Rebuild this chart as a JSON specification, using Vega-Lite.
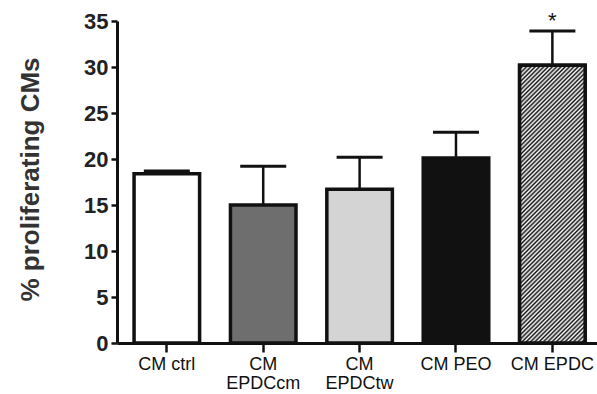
{
  "$schema": "https://vega.github.io/schema/vega-lite/v6.json",
  "width": 480,
  "height": 322,
  "autosize": {"type": "none"},
  "padding": {"left": 117, "top": 21, "right": 0, "bottom": 51},
  "background": "white",
  "config": {"view": {"stroke": null}},
  "data": {"values": [
    {"group": "CM ctrl", "mean": 18.4, "upper": 18.7, "sig": ""},
    {"group": "CM EPDCcm", "mean": 15.0, "upper": 19.2, "sig": ""},
    {"group": "CM EPDCtw", "mean": 16.7, "upper": 20.2, "sig": ""},
    {"group": "CM PEO", "mean": 20.1, "upper": 22.9, "sig": ""},
    {"group": "CM EPDC", "mean": 30.2, "upper": 33.9, "sig": "*"}
  ]},
  "encoding": {
    "x": {
      "field": "group", "type": "nominal", "sort": null,
      "scale": {"paddingInner": 0.32, "paddingOuter": 0.15, "align": 0.59},
      "axis": {
        "title": null, "labelAngle": 0, "domainWidth": 3, "domainColor": "#111",
        "tickColor": "#111", "tickWidth": 2.5, "tickSize": 9,
        "labelFont": "Liberation Sans", "labelFontSize": 18, "labelColor": "#111",
        "labelPadding": 3, "labelBaseline": "top", "labelLineHeight": 19,
        "labelOverlap": false, "labelBound": false,
        "labelExpr": "datum.value == 'CM EPDCcm' ? ['CM','EPDCcm'] : datum.value == 'CM EPDCtw' ? ['CM','EPDCtw'] : datum.value"
      }
    }
  },
  "layer": [
    {
      "mark": {"type": "bar", "stroke": "#111", "strokeWidth": 3.5},
      "encoding": {
        "y": {
          "field": "mean", "type": "quantitative",
          "scale": {"domain": [0, 35], "nice": false},
          "axis": {
            "values": [0, 5, 10, 15, 20, 25, 30, 35], "grid": false,
            "domainWidth": 3, "domainColor": "#111", "tickColor": "#111",
            "tickWidth": 2.5, "tickSize": 6, "labelFont": "Liberation Sans",
            "labelFontWeight": "bold", "labelFontSize": 22, "labelColor": "#222",
            "labelPadding": 3,
            "title": "% proliferating CMs", "titleFont": "Liberation Sans",
            "titleFontWeight": "bold", "titleFontSize": 26, "titleColor": "#333",
            "titleAngle": -90, "titleX": -79, "titleY": 158,
            "titleAlign": "center", "titleBaseline": "alphabetic"
          }
        },
        "fill": {
          "field": "group", "type": "nominal", "legend": null,
          "scale": {
            "domain": ["CM ctrl", "CM EPDCcm", "CM EPDCtw", "CM PEO", "CM EPDC"],
            "range": ["#ffffff", "#6e6e6e", "#d4d4d4", "#111111", "#ffffff"]
          }
        }
      }
    },
    {
      "transform": [{"filter": "datum.group == 'CM EPDC'"}],
      "mark": {
        "type": "bar", "stroke": "#111", "strokeWidth": 3.5,
        "fill": {
          "gradient": "linear", "x1": 0, "y1": 0, "x2": 0.276, "y2": 1.171,
          "stops": [
            {"offset": 0, "color": "#111"}, {"offset": 0.00625, "color": "#fff"}, {"offset": 0.0125, "color": "#111"}, {"offset": 0.01875, "color": "#fff"}, {"offset": 0.025, "color": "#111"}, {"offset": 0.03125, "color": "#fff"}, {"offset": 0.0375, "color": "#111"}, {"offset": 0.04375, "color": "#fff"}, {"offset": 0.05, "color": "#111"}, {"offset": 0.05625, "color": "#fff"}, {"offset": 0.0625, "color": "#111"}, {"offset": 0.06875, "color": "#fff"}, {"offset": 0.075, "color": "#111"}, {"offset": 0.08125, "color": "#fff"}, {"offset": 0.0875, "color": "#111"}, {"offset": 0.09375, "color": "#fff"},
            {"offset": 0.1, "color": "#111"}, {"offset": 0.10625, "color": "#fff"}, {"offset": 0.1125, "color": "#111"}, {"offset": 0.11875, "color": "#fff"}, {"offset": 0.125, "color": "#111"}, {"offset": 0.13125, "color": "#fff"}, {"offset": 0.1375, "color": "#111"}, {"offset": 0.14375, "color": "#fff"}, {"offset": 0.15, "color": "#111"}, {"offset": 0.15625, "color": "#fff"}, {"offset": 0.1625, "color": "#111"}, {"offset": 0.16875, "color": "#fff"}, {"offset": 0.175, "color": "#111"}, {"offset": 0.18125, "color": "#fff"}, {"offset": 0.1875, "color": "#111"}, {"offset": 0.19375, "color": "#fff"},
            {"offset": 0.2, "color": "#111"}, {"offset": 0.20625, "color": "#fff"}, {"offset": 0.2125, "color": "#111"}, {"offset": 0.21875, "color": "#fff"}, {"offset": 0.225, "color": "#111"}, {"offset": 0.23125, "color": "#fff"}, {"offset": 0.2375, "color": "#111"}, {"offset": 0.24375, "color": "#fff"}, {"offset": 0.25, "color": "#111"}, {"offset": 0.25625, "color": "#fff"}, {"offset": 0.2625, "color": "#111"}, {"offset": 0.26875, "color": "#fff"}, {"offset": 0.275, "color": "#111"}, {"offset": 0.28125, "color": "#fff"}, {"offset": 0.2875, "color": "#111"}, {"offset": 0.29375, "color": "#fff"},
            {"offset": 0.3, "color": "#111"}, {"offset": 0.30625, "color": "#fff"}, {"offset": 0.3125, "color": "#111"}, {"offset": 0.31875, "color": "#fff"}, {"offset": 0.325, "color": "#111"}, {"offset": 0.33125, "color": "#fff"}, {"offset": 0.3375, "color": "#111"}, {"offset": 0.34375, "color": "#fff"}, {"offset": 0.35, "color": "#111"}, {"offset": 0.35625, "color": "#fff"}, {"offset": 0.3625, "color": "#111"}, {"offset": 0.36875, "color": "#fff"}, {"offset": 0.375, "color": "#111"}, {"offset": 0.38125, "color": "#fff"}, {"offset": 0.3875, "color": "#111"}, {"offset": 0.39375, "color": "#fff"},
            {"offset": 0.4, "color": "#111"}, {"offset": 0.40625, "color": "#fff"}, {"offset": 0.4125, "color": "#111"}, {"offset": 0.41875, "color": "#fff"}, {"offset": 0.425, "color": "#111"}, {"offset": 0.43125, "color": "#fff"}, {"offset": 0.4375, "color": "#111"}, {"offset": 0.44375, "color": "#fff"}, {"offset": 0.45, "color": "#111"}, {"offset": 0.45625, "color": "#fff"}, {"offset": 0.4625, "color": "#111"}, {"offset": 0.46875, "color": "#fff"}, {"offset": 0.475, "color": "#111"}, {"offset": 0.48125, "color": "#fff"}, {"offset": 0.4875, "color": "#111"}, {"offset": 0.49375, "color": "#fff"},
            {"offset": 0.5, "color": "#111"}, {"offset": 0.50625, "color": "#fff"}, {"offset": 0.5125, "color": "#111"}, {"offset": 0.51875, "color": "#fff"}, {"offset": 0.525, "color": "#111"}, {"offset": 0.53125, "color": "#fff"}, {"offset": 0.5375, "color": "#111"}, {"offset": 0.54375, "color": "#fff"}, {"offset": 0.55, "color": "#111"}, {"offset": 0.55625, "color": "#fff"}, {"offset": 0.5625, "color": "#111"}, {"offset": 0.56875, "color": "#fff"}, {"offset": 0.575, "color": "#111"}, {"offset": 0.58125, "color": "#fff"}, {"offset": 0.5875, "color": "#111"}, {"offset": 0.59375, "color": "#fff"},
            {"offset": 0.6, "color": "#111"}, {"offset": 0.60625, "color": "#fff"}, {"offset": 0.6125, "color": "#111"}, {"offset": 0.61875, "color": "#fff"}, {"offset": 0.625, "color": "#111"}, {"offset": 0.63125, "color": "#fff"}, {"offset": 0.6375, "color": "#111"}, {"offset": 0.64375, "color": "#fff"}, {"offset": 0.65, "color": "#111"}, {"offset": 0.65625, "color": "#fff"}, {"offset": 0.6625, "color": "#111"}, {"offset": 0.66875, "color": "#fff"}, {"offset": 0.675, "color": "#111"}, {"offset": 0.68125, "color": "#fff"}, {"offset": 0.6875, "color": "#111"}, {"offset": 0.69375, "color": "#fff"},
            {"offset": 0.7, "color": "#111"}, {"offset": 0.70625, "color": "#fff"}, {"offset": 0.7125, "color": "#111"}, {"offset": 0.71875, "color": "#fff"}, {"offset": 0.725, "color": "#111"}, {"offset": 0.73125, "color": "#fff"}, {"offset": 0.7375, "color": "#111"}, {"offset": 0.74375, "color": "#fff"}, {"offset": 0.75, "color": "#111"}, {"offset": 0.75625, "color": "#fff"}, {"offset": 0.7625, "color": "#111"}, {"offset": 0.76875, "color": "#fff"}, {"offset": 0.775, "color": "#111"}, {"offset": 0.78125, "color": "#fff"}, {"offset": 0.7875, "color": "#111"}, {"offset": 0.79375, "color": "#fff"},
            {"offset": 0.8, "color": "#111"}, {"offset": 0.80625, "color": "#fff"}, {"offset": 0.8125, "color": "#111"}, {"offset": 0.81875, "color": "#fff"}, {"offset": 0.825, "color": "#111"}, {"offset": 0.83125, "color": "#fff"}, {"offset": 0.8375, "color": "#111"}, {"offset": 0.84375, "color": "#fff"}, {"offset": 0.85, "color": "#111"}, {"offset": 0.85625, "color": "#fff"}, {"offset": 0.8625, "color": "#111"}, {"offset": 0.86875, "color": "#fff"}, {"offset": 0.875, "color": "#111"}, {"offset": 0.88125, "color": "#fff"}, {"offset": 0.8875, "color": "#111"}, {"offset": 0.89375, "color": "#fff"},
            {"offset": 0.9, "color": "#111"}, {"offset": 0.90625, "color": "#fff"}, {"offset": 0.9125, "color": "#111"}, {"offset": 0.91875, "color": "#fff"}, {"offset": 0.925, "color": "#111"}, {"offset": 0.93125, "color": "#fff"}, {"offset": 0.9375, "color": "#111"}, {"offset": 0.94375, "color": "#fff"}, {"offset": 0.95, "color": "#111"}, {"offset": 0.95625, "color": "#fff"}, {"offset": 0.9625, "color": "#111"}, {"offset": 0.96875, "color": "#fff"}, {"offset": 0.975, "color": "#111"}, {"offset": 0.98125, "color": "#fff"}, {"offset": 0.9875, "color": "#111"}, {"offset": 0.99375, "color": "#fff"},
            {"offset": 1, "color": "#111"}
          ]
        }
      },
      "encoding": {"y": {"field": "mean", "type": "quantitative"}}
    },
    {
      "mark": {"type": "rule", "color": "#111", "strokeWidth": 2.5},
      "encoding": {
        "y": {"field": "mean", "type": "quantitative"},
        "y2": {"field": "upper"}
      }
    },
    {
      "mark": {"type": "tick", "color": "#111", "thickness": 3, "size": 46, "opacity": 1},
      "encoding": {"y": {"field": "upper", "type": "quantitative"}}
    },
    {
      "mark": {"type": "text", "font": "Liberation Sans", "fontSize": 22, "color": "#111", "baseline": "middle", "dy": -10},
      "encoding": {
        "y": {"field": "upper", "type": "quantitative"},
        "text": {"field": "sig"}
      }
    }
  ]
}
